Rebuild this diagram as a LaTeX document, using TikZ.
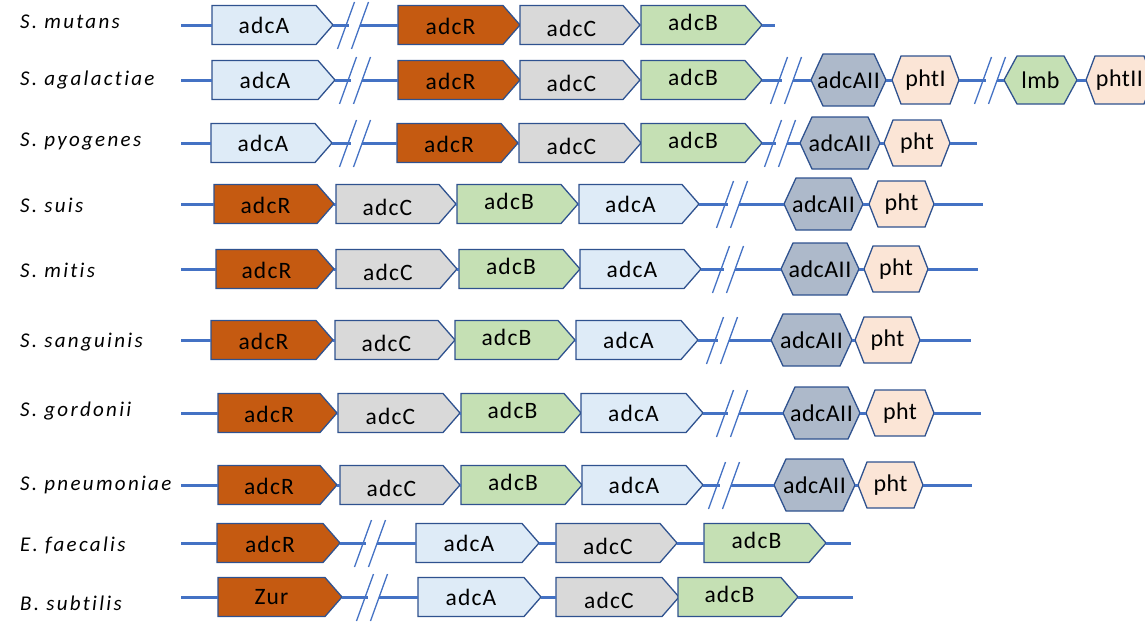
\documentclass[tikz,border=0pt]{standalone}
\usepackage{fontspec}
\setmainfont{Carlito}
\newfontfamily\genefont[LetterSpace=5,Ligatures=NoCommon]{Carlito}
\newfontfamily\hexfont[LetterSpace=2,Ligatures=NoCommon]{Carlito}
\newfontfamily\speciesfont[LetterSpace=11,Ligatures=NoCommon]{Carlito}
\definecolor{backbonecol}{HTML}{4472C4}
\definecolor{edgecol}{HTML}{2F528F}
\definecolor{fillA}{HTML}{DEEBF7}
\definecolor{fillR}{HTML}{C55A11}
\definecolor{fillC}{HTML}{D9D9D9}
\definecolor{fillB}{HTML}{C5E0B4}
\definecolor{fillAII}{HTML}{ADB9CA}
\definecolor{fillP}{HTML}{FBE5D6}

\tikzset{
  genebody/.style={draw=edgecol, line width=1.3pt, line join=miter},
  geneA/.style={fill=fillA}, geneR/.style={fill=fillR}, geneC/.style={fill=fillC},
  geneB/.style={fill=fillB}, geneZ/.style={fill=fillR},
  hexAII/.style={fill=fillAII}, hexP/.style={fill=fillP}, hexL/.style={fill=fillB},
  genelabel/.style={inner sep=0pt, font=\genefont\fontsize{23.5}{25}\selectfont},
  textA/.style={}, textR/.style={yshift=-1pt}, textC/.style={yshift=-3pt},
  textB/.style={yshift=3pt}, textZ/.style={},
  hexlabel/.style={inner sep=0pt, font=\hexfont\fontsize{24}{26}\selectfont},
  species/.style={anchor=west, inner sep=0pt, font=\speciesfont\fontsize{21}{24}\selectfont\itshape},
  backbone/.style={draw=backbonecol, line width=3pt},
  breakmark/.style={draw=backbonecol, line width=1.3pt}
}

% gene arrow: name, left x, tip x, y, kind, text
\newcommand\genearrow[6]{%
  \path[genebody,gene#5] (#2,#4-19.5) -- (#3-17,#4-19.5) -- (#3,#4) -- (#3-17,#4+19.5) -- (#2,#4+19.5) -- cycle;
  \node[genelabel,text#5] (#1) at ({(#2+#3-17)/2},#4) {#6};
  \coordinate (#1-w) at (#2,#4);
  \coordinate (#1-e) at (#3,#4);
}
% hexagonal gene: name, left x, right x, y, half height, corner inset, kind, text
\newcommand\genehex[8]{%
  \path[genebody,hex#7] (#2,#4) -- (#2+#6,#4-#5) -- (#3-#6,#4-#5) -- (#3,#4) -- (#3-#6,#4+#5) -- (#2+#6,#4+#5) -- cycle;
  \node[hexlabel] (#1) at ({(#2+#3)/2},#4) {#8};
  \coordinate (#1-w) at (#2,#4);
  \coordinate (#1-e) at (#3,#4);
}
% break in the backbone: name, centre x, y
\newcommand\genebreak[3]{%
  \coordinate (#1-l) at (#2-4,#3);
  \coordinate (#1-r) at (#2+7,#3);
  \draw[breakmark] (#2-15.5,#3+24) -- (#2+1.5,#3-23);
  \draw[breakmark] (#2-1.5,#3+24) -- (#2+15.5,#3-23);
}

\begin{document}
\begin{tikzpicture}[x=1pt,y=-1pt]
\useasboundingbox (0,0) rectangle (1145,621);

% species names
\node[species] (sp1) at (20,22) {S. mutans};
\node[species] (sp2) at (20,80) {S. agalactiae};
\node[species] (sp3) at (20,141) {S. pyogenes};
\node[species] (sp4) at (20,205) {S. suis};
\node[species] (sp5) at (20,270) {S. mitis};
\node[species] (sp6) at (20,342) {S. sanguinis};
\node[species] (sp7) at (20,411) {S. gordonii};
\node[species] (sp8) at (20,485) {S. pneumoniae};
\node[species] (sp9) at (20,545) {E. faecalis};
\node[species] (sp10) at (20,603) {B. subtilis};

% S. mutans
\coordinate (a0) at (181,25);
\genearrow{aA}{212}{333}{25}{A}{adcA}
\genebreak{ak1}{353}{25}
\genearrow{aR}{398}{520}{25}{R}{adcR}
\genearrow{aC}{520}{640}{25}{C}{adcC}
\genearrow{aB}{641}{762}{25}{B}{adcB}
\coordinate (a9) at (775,25);
\draw[backbone] (a0) -- (aA-w) (aA-e) -- (ak1-l) (ak1-r) -- (aR-w) (aB-e) -- (a9);

% S. agalactiae
\coordinate (b0) at (181,80);
\genearrow{bA}{212}{335}{80}{A}{adcA}
\genebreak{bk1}{355}{80}
\genearrow{bR}{398}{520}{80}{R}{adcR}
\genearrow{bC}{520}{640}{80}{C}{adcC}
\genearrow{bB}{641}{762}{80}{B}{adcB}
\genebreak{bk2}{786}{80}
\genehex{bAII}{811}{886}{80}{26}{12}{AII}{adcAII}
\genehex{bP1}{892}{959}{80}{24}{9}{P}{phtI}
\genebreak{bk3}{990}{80}
\genehex{bL}{1004}{1077}{80}{24}{13}{L}{lmb}
\genehex{bP2}{1086}{1153}{80}{24}{9}{P}{phtII}
\draw[backbone] (b0) -- (bA-w) (bA-e) -- (bk1-l) (bk1-r) -- (bR-w) (bB-e) -- (bk2-l) (bk2-r) -- (bAII-w)
  (bAII-e) -- (bP1-w) (bP1-e) -- (bk3-l) (bk3-r) -- (bL-w) (bL-e) -- (bP2-w);

% S. pyogenes
\coordinate (c0) at (181,143);
\genearrow{cA}{211}{332}{143}{A}{adcA}
\genebreak{ck1}{355}{143}
\genearrow{cR}{397}{518}{143}{R}{adcR}
\genearrow{cC}{519}{641}{143}{C}{adcC}
\genearrow{cB}{641}{762}{143}{B}{adcB}
\genebreak{ck2}{780}{143}
\genehex{cAII}{800}{880}{143}{26}{12}{AII}{adcAII}
\genehex{cP}{884}{950}{143}{23}{9}{P}{pht}
\coordinate (c9) at (977,143);
\draw[backbone] (c0) -- (cA-w) (cA-e) -- (ck1-l) (ck1-r) -- (cR-w) (cR-e) -- (cC-w) (cB-e) -- (ck2-l) (ck2-r) -- (cAII-w)
  (cAII-e) -- (cP-w) (cP-e) -- (c9);

% S. suis
\coordinate (d0) at (181,204);
\genearrow{dR}{214}{334}{204}{R}{adcR}
\genearrow{dC}{336}{456}{204}{C}{adcC}
\genearrow{dB}{457}{578}{204}{B}{adcB}
\genearrow{dA}{579}{699}{204}{A}{adcA}
\genebreak{dk1}{732}{204}
\genehex{dAII}{784}{863}{204}{26}{12}{AII}{adcAII}
\genehex{dP}{869}{934}{204}{23}{9}{P}{pht}
\coordinate (d9) at (983,204);
\draw[backbone] (d0) -- (dR-w) (dR-e) -- (dC-w) (dC-e) -- (dB-w) (dB-e) -- (dA-w) (dA-e) -- (dk1-l) (dk1-r) -- (dAII-w)
  (dAII-e) -- (dP-w) (dP-e) -- (d9);

% S. mitis
\coordinate (e0) at (181,269);
\genearrow{eR}{216}{334}{269}{R}{adcR}
\genearrow{eC}{336}{457}{269}{C}{adcC}
\genearrow{eB}{459}{580}{269}{B}{adcB}
\genearrow{eA}{580}{701}{269}{A}{adcA}
\genebreak{ek1}{728}{269}
\genehex{eAII}{781}{859}{269}{26}{12}{AII}{adcAII}
\genehex{eP}{864}{928}{269}{23}{9}{P}{pht}
\coordinate (e9) at (978,269);
\draw[backbone] (e0) -- (eR-w) (eR-e) -- (eC-w) (eC-e) -- (eB-w) (eA-e) -- (ek1-l) (ek1-r) -- (eAII-w)
  (eAII-e) -- (eP-w) (eP-e) -- (e9);

% S. sanguinis
\coordinate (f0) at (181,340);
\genearrow{fR}{211}{333}{340}{R}{adcR}
\genearrow{fC}{335}{455}{340}{C}{adcC}
\genearrow{fB}{455}{575}{340}{B}{adcB}
\genearrow{fA}{576}{698}{340}{A}{adcA}
\genebreak{fk1}{722}{340}
\genehex{fAII}{771}{852}{340}{26}{12}{AII}{adcAII}
\genehex{fP}{855}{920}{340}{23}{9}{P}{pht}
\coordinate (f9) at (971,340);
\draw[backbone] (f0) -- (fR-w) (fR-e) -- (fC-w) (fB-e) -- (fA-w) (fA-e) -- (fk1-l) (fk1-r) -- (fAII-w)
  (fAII-e) -- (fP-w) (fP-e) -- (f9);

% S. gordonii
\coordinate (g0) at (181,413);
\genearrow{gR}{218}{337}{413}{R}{adcR}
\genearrow{gC}{338}{460}{413}{C}{adcC}
\genearrow{gB}{461}{581}{413}{B}{adcB}
\genearrow{gA}{581}{703}{413}{A}{adcA}
\genebreak{gk1}{732}{413}
\genehex{gAII}{783}{860}{413}{26}{12}{AII}{adcAII}
\genehex{gP}{866}{934}{413}{23}{9}{P}{pht}
\coordinate (g9) at (981,413);
\draw[backbone] (g0) -- (gR-w) (gR-e) -- (gC-w) (gC-e) -- (gB-w) (gA-e) -- (gk1-l) (gk1-r) -- (gAII-w)
  (gAII-e) -- (gP-w) (gP-e) -- (g9);

% S. pneumoniae
\coordinate (h0) at (181,485);
\genearrow{hR}{218}{337}{485}{R}{adcR}
\genearrow{hC}{340}{460}{485}{C}{adcC}
\genearrow{hB}{461}{582}{485}{B}{adcB}
\genearrow{hA}{582}{703}{485}{A}{adcA}
\genebreak{hk1}{724}{485}
\genehex{hAII}{774}{855}{485}{26}{12}{AII}{adcAII}
\genehex{hP}{858}{923}{485}{23}{9}{P}{pht}
\coordinate (h9) at (972,485);
\draw[backbone] (h0) -- (hR-w) (hR-e) -- (hC-w) (hC-e) -- (hB-w) (hA-e) -- (hk1-l) (hk1-r) -- (hAII-w)
  (hAII-e) -- (hP-w) (hP-e) -- (h9);

% E. faecalis
\coordinate (i0) at (181,543);
\genearrow{iR}{217}{340}{543}{R}{adcR}
\genebreak{ik1}{370}{543}
\genearrow{iA}{416}{539}{543}{A}{adcA}
\genearrow{iC}{556}{677}{543}{C}{adcC}
\genearrow{iB}{704}{826}{543}{B}{adcB}
\coordinate (i9) at (851,543);
\draw[backbone] (i0) -- (iR-w) (iR-e) -- (ik1-l) (ik1-r) -- (iA-w) (iA-e) -- (iC-w) (iC-e) -- (iB-w) (iB-e) -- (i9);

% B. subtilis
\coordinate (j0) at (181,597);
\genearrow{jZ}{218}{342}{597}{Z}{Zur}
\genebreak{jk1}{372}{597}
\genearrow{jA}{418}{541}{597}{A}{adcA}
\genearrow{jC}{556}{679}{597}{C}{adcC}
\genearrow{jB}{678}{798}{597}{B}{adcB}
\coordinate (j9) at (853,597);
\draw[backbone] (j0) -- (jZ-w) (jZ-e) -- (jk1-l) (jk1-r) -- (jA-w) (jA-e) -- (jC-w) (jB-e) -- (j9);
\end{tikzpicture}
\end{document}
